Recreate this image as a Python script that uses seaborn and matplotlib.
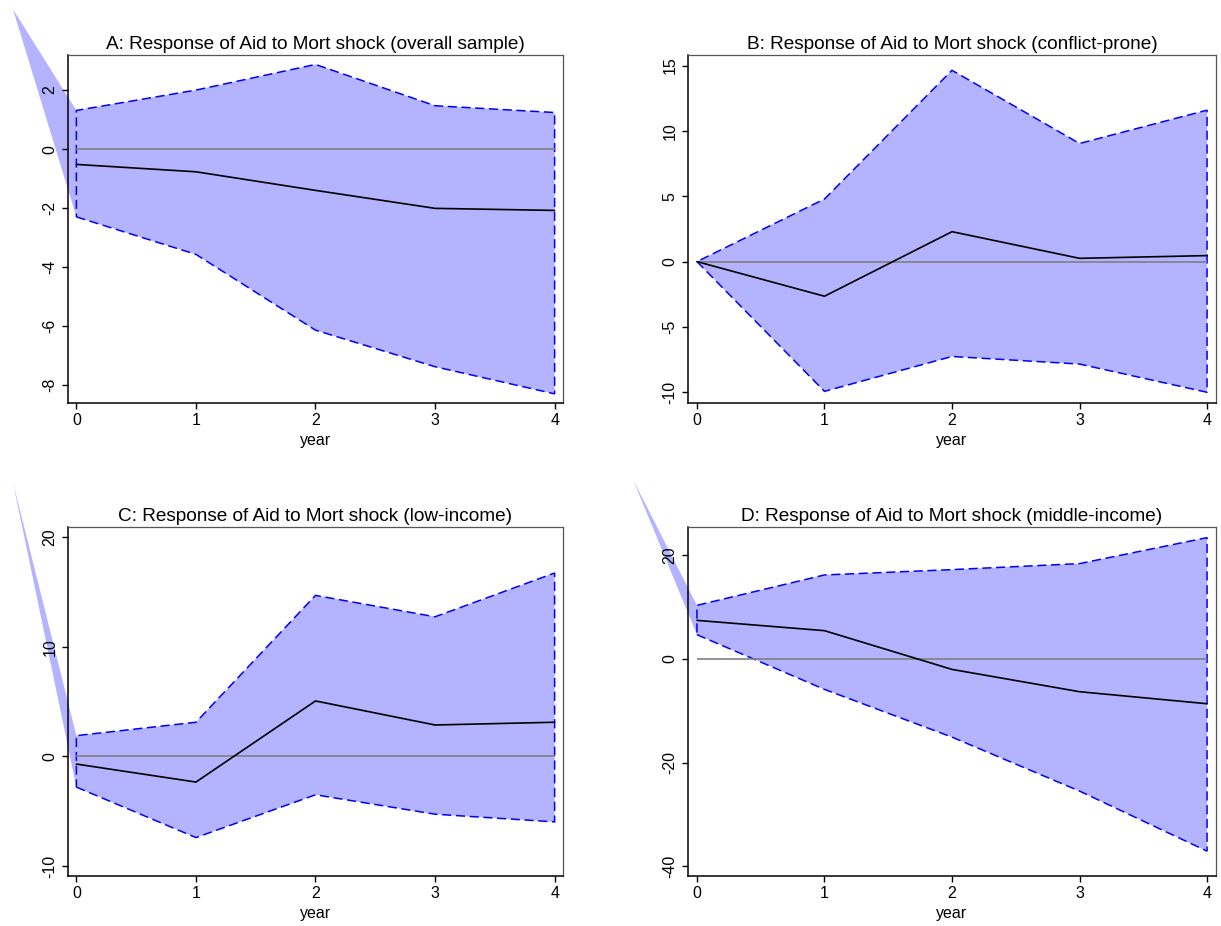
import numpy as np
import matplotlib
matplotlib.use("Agg")
import matplotlib.pyplot as plt
import seaborn as sns

# impulse responses of Aid to a Mort shock
years = [0, 1, 2, 3, 4]

titles = [
    "A: Response of Aid to Mort shock (overall sample)",
    "B: Response of Aid to Mort shock (conflict-prone)",
    "C: Response of Aid to Mort shock (low-income)",
    "D: Response of Aid to Mort shock (middle-income)",
]

irf_a = [-0.52, -0.77, -1.40, -2.01, -2.08]
upper_a = [1.31, 2.00, 2.87, 1.47, 1.24]
lower_a = [-2.30, -3.57, -6.14, -7.38, -8.30]

irf_b = [0.0, -2.65, 2.29, 0.25, 0.46]
upper_b = [0.0, 4.79, 14.64, 9.04, 11.59]
lower_b = [0.0, -9.93, -7.26, -7.84, -10.0]

irf_c = [-0.70, -2.34, 5.05, 2.86, 3.11]
upper_c = [1.89, 3.11, 14.67, 12.72, 16.71]
lower_c = [-2.80, -7.40, -3.50, -5.27, -5.97]

irf_d = [7.47, 5.48, -2.00, -6.31, -8.63]
upper_d = [10.37, 16.24, 17.27, 18.43, 23.45]
lower_d = [4.70, -5.86, -15.08, -25.50, -37.10]

# stray wedge of the band that the original renderer drew outside the plot
stray_tip_x = [-0.53, None, -0.53, -0.50]
stray_tip_y = [4.74, None, 24.96, 34.6]

yticks = [
    [-8, -6, -4, -2, 0, 2],
    [-10, -5, 0, 5, 10, 15],
    [-10, 0, 10, 20],
    [-40, -20, 0, 20],
]
ylims = [(-8.61, 3.19), (-10.82, 15.81), (-10.9, 20.9), (-41.9, 25.5)]

irfs = [irf_a, irf_b, irf_c, irf_d]
uppers = [upper_a, upper_b, upper_c, upper_d]
lowers = [lower_a, lower_b, lower_c, lower_d]

# ─────────────────────────────────────────────────────────────
# style
# ─────────────────────────────────────────────────────────────
sns.set_theme(style="ticks")
plt.rcParams["font.family"] = ["Liberation Sans", "DejaVu Sans"]
plt.rcParams["text.color"] = "black"
plt.rcParams["axes.labelcolor"] = "black"
plt.rcParams["xtick.color"] = "black"
plt.rcParams["ytick.color"] = "black"

band_fill = "#b3b3ff"
band_edge = "#0000ff"

W, H = 1221, 926
fig = plt.figure(figsize=(W / 100, H / 100), dpi=100)

# axes boxes in pixels: left, top, right, bottom
boxes = [
    (68, 55, 563, 403),
    (688, 55, 1216, 403),
    (68, 527, 563, 876),
    (688, 527, 1216, 876),
]

for i, (l, t, r, b) in enumerate(boxes):
    ax = fig.add_axes([l / W, 1 - b / H, (r - l) / W, (b - t) / H])
    x = np.array(years, dtype=float)
    up = np.array(uppers[i])
    lo = np.array(lowers[i])

    # stray wedge (no outline), drawn outside the axes like the source
    if stray_tip_x[i] is not None:
        ax.fill([stray_tip_x[i], x[0], x[0]],
                [stray_tip_y[i], up[0], lo[0]],
                color=band_fill, lw=0, clip_on=False, zorder=0.5)

    # confidence band with dashed outline
    px = np.concatenate([x, x[::-1]])
    py = np.concatenate([lo, up[::-1]])
    ax.fill(px, py, facecolor=band_fill, edgecolor=band_edge,
            lw=1.1, linestyle=(0, (6, 3)), zorder=1)

    ax.hlines(0, x[0], x[-1], color="#808080", lw=1.2, zorder=2)
    sns.lineplot(x=years, y=irfs[i], color="black", lw=1.2, ax=ax, zorder=3)

    ax.set_xlim(-0.07, 4.07)
    ax.set_ylim(*ylims[i])
    ax.set_xticks(years)
    ax.set_yticks(yticks[i])
    ax.set_xticklabels([str(v) for v in years])
    ax.set_yticklabels([str(v) for v in yticks[i]], rotation=90, va="center")
    ax.set_xlabel("year", fontsize=11.5, labelpad=3)
    ax.set_ylabel("")
    ax.set_title(titles[i], fontsize=13.7, pad=4)

    ax.tick_params(axis="both", direction="out", length=4.5, width=1.0,
                   color="black", labelsize=11.5, pad=3)
    for side in ["left", "bottom"]:
        ax.spines[side].set_color("black")
        ax.spines[side].set_linewidth(1.1)
    for side in ["top", "right"]:
        ax.spines[side].set_visible(True)
        ax.spines[side].set_color("#555555")
        ax.spines[side].set_linewidth(0.9)

fig.savefig("out.png", dpi=100)
